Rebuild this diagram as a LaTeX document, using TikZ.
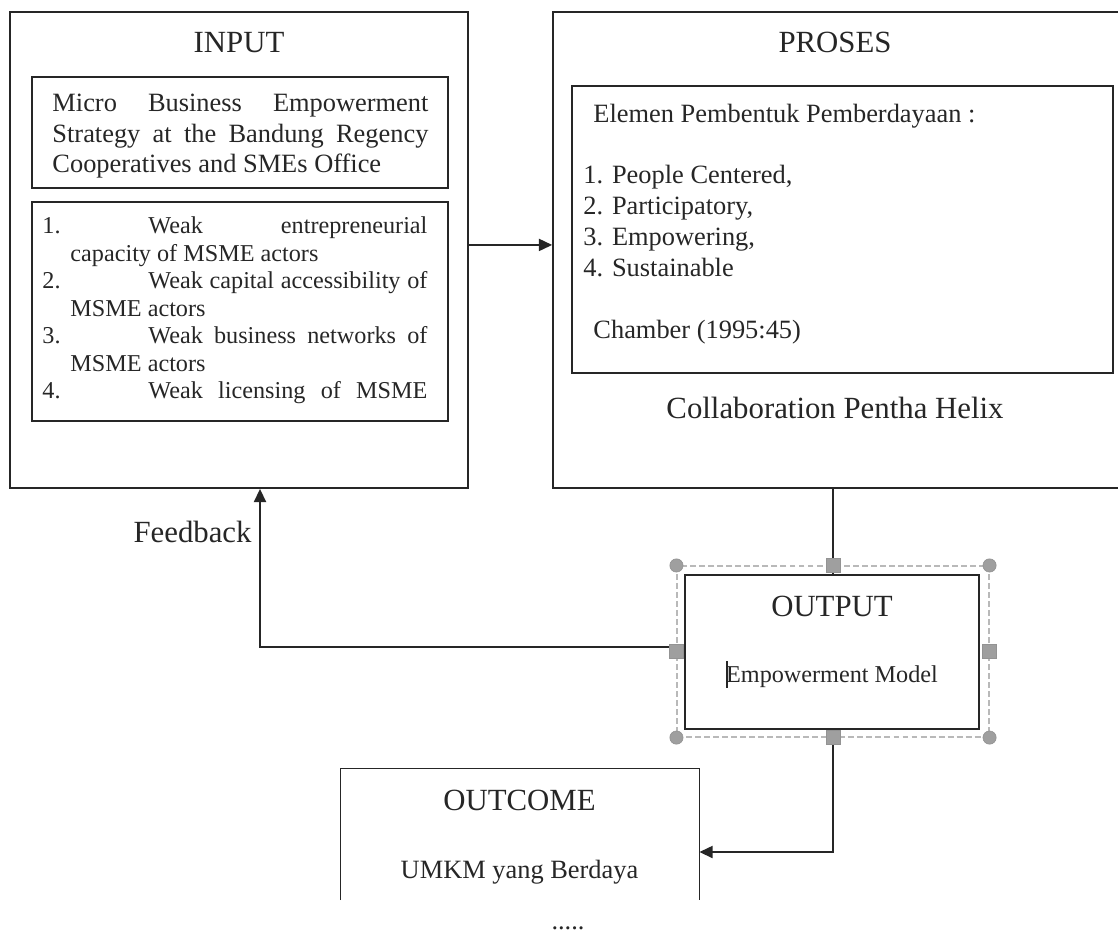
\documentclass[tikz,border=0pt]{standalone}
\usepackage{fontspec}
\setmainfont{Liberation Serif}
\usetikzlibrary{arrows.meta,fit}
\begin{document}
\begin{tikzpicture}[x=0.4545pt,y=-0.4545pt,
  box/.style={draw=black!85, line width=0.8pt, inner sep=0pt},
  hull/.style={inner sep=0pt},
  ttl/.style={font=\fontsize{14}{16}\selectfont, anchor=base, inner sep=0pt, text=black!85},
  body/.style={font=\fontsize{12}{14}\selectfont, anchor=base west, inner sep=0pt, text=black!85},
  lst/.style={font=\fontsize{11}{13}\selectfont, anchor=base west, inner sep=0pt, text=black!85},
  conn/.style={draw=black!85, line width=0.8pt},
  arr/.style={conn, -{Triangle[length=6pt,width=5.5pt]}},
  hsq/.style={rectangle, fill=gray!75, draw=gray!85, line width=0.3pt, minimum size=6.2pt, inner sep=0pt},
  hcirc/.style={circle, fill=gray!75, draw=gray!85, line width=0.3pt, minimum size=6pt, inner sep=0pt},
  selframe/.style={draw=gray!55, dash pattern=on 2.7pt off 1.4pt, line width=0.5pt, inner sep=0pt}
]
\useasboundingbox (0,0) rectangle (1118,938);
\clip (0,0) rectangle (1118,938);

% boxes
\node[box, fit={(10,12) (468,488)}] (input) {};
\node[box, fit={(32,77) (448,188)}] (strat) {};
\node[box, fit={(32,202) (448,421)}] (weak) {};
\node[box, fit={(553,12) (1124,488)}] (proses) {};
\node[box, fit={(572,86) (1113,373)}] (elemen) {};
\node[box, fit={(685,575) (979,729)}] (output) {};
\node[selframe, fit={(677,566) (989,737)}] (frame) {};
\node[hull, fit={(341,769) (699,935)}] (outcome) {};
\draw[conn] (outcome.north west |- 0,900) -- (outcome.north west) -- (outcome.north east) -- (outcome.north east |- 0,900);

% INPUT texts
\node[ttl] (tin) at (239,52) {INPUT};
\node[body] (s1) at (52,111) {\makebox[170.9pt][s]{Micro Business Empowerment}};
\node[body] (s2) at (52,142) {\makebox[170.9pt][s]{Strategy at the Bandung Regency}};
\node[body] (s3) at (52,172) {Cooperatives and SMEs Office};

\node[lst] (n1) at (42,233) {1.};
\node[lst] (w1) at (148,233) {\makebox[126.8pt][s]{Weak entrepreneurial}};
\node[lst] (w1b) at (70,261) {capacity of MSME actors};
\node[lst] (n2) at (42,288) {2.};
\node[lst] (w2) at (148,288) {\makebox[126.8pt][s]{Weak capital accessibility of}};
\node[lst] (w2b) at (70,316) {MSME actors};
\node[lst] (n3) at (42,343) {3.};
\node[lst] (w3) at (148,343) {\makebox[126.8pt][s]{Weak business networks of}};
\node[lst] (w3b) at (70,371) {MSME actors};
\node[lst] (n4) at (42,398) {4.};
\node[lst] (w4) at (148,398) {\makebox[126.8pt][s]{Weak licensing of MSME}};

% PROSES texts
\node[ttl] (tpr) at (835,52) {PROSES};
\node[body] (e0) at (593,122) {Elemen Pembentuk Pemberdayaan :};
\node[body] (e1) at (583,183) {1. People Centered,};
\node[body] (e2) at (583,214) {2. Participatory,};
\node[body] (e3) at (583,245) {3. Empowering,};
\node[body] (e4) at (583,276) {4. Sustainable};
\node[body] (ech) at (593,338) {Chamber (1995:45)};
\node[ttl] (collab) at (835,418) {Collaboration Pentha Helix};

% OUTPUT texts
\node[ttl] (tout) at (832,616) {OUTPUT};
\node[lst, anchor=base] (em) at (832,682) {Empowerment Model};
\draw[line width=0.5pt, black!85] (727,661) -- (727,688);

% OUTCOME texts
\node[ttl] (toc) at (519.5,810) {OUTCOME};
\node[body, anchor=base] (umkm) at (519.5,878) {UMKM yang Berdaya};

% Feedback label and dots
\node[ttl, anchor=base east] (fb) at (252,542) {Feedback};
\node[body, anchor=base] (dots) at (568,929) {.....};

% connectors
\draw[arr] ([yshift=2.3pt]input.east) -- ([yshift=2.3pt]proses.west);
\coordinate (fbx) at (260,647);
\draw[arr] (output.west |- fbx) -- (fbx) -- (fbx |- input.south);
\draw[conn] (frame.north |- proses.south) -- (frame.north |- output.north);
\draw[arr] (frame.south) |- (outcome.east);

% selection handles
\node[hcirc] (h1) at (frame.north west) {};
\node[hcirc] (h2) at (frame.north east) {};
\node[hcirc] (h3) at (frame.south west) {};
\node[hcirc] (h4) at (frame.south east) {};
\node[hsq] (h5) at (frame.north) {};
\node[hsq] (h6) at (frame.south) {};
\node[hsq] (h7) at (frame.west) {};
\node[hsq] (h8) at (frame.east) {};
\end{tikzpicture}
\end{document}
